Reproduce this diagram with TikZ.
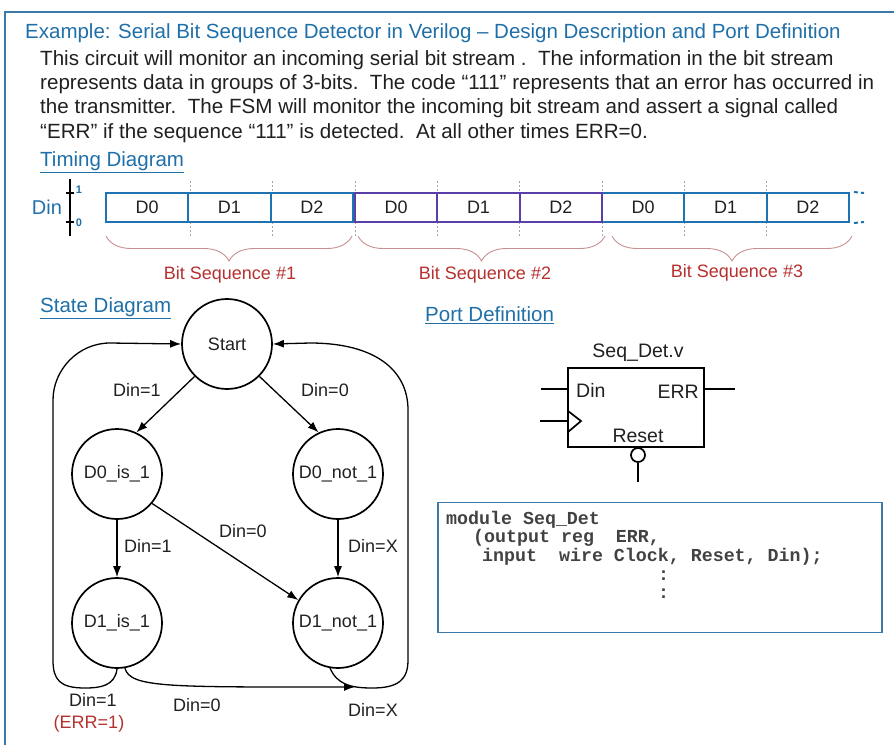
\documentclass[tikz,border=0pt]{standalone}
\usepackage{fontspec}
\setmainfont{Liberation Sans}
\setmonofont{Liberation Mono}
\usetikzlibrary{arrows.meta,decorations.pathreplacing}
\definecolor{hblue}{HTML}{1F6FA8}
\definecolor{frameblue}{HTML}{3C78A8}
\definecolor{cellblue}{HTML}{1F73B3}
\definecolor{cellpurple}{HTML}{5A3FA8}
\definecolor{bracecol}{HTML}{C89090}
\definecolor{seqred}{HTML}{B5302E}
\definecolor{txt}{HTML}{202020}
\tikzset{
  heading/.style={anchor=west,text=hblue,font=\fontsize{20.5}{22}\selectfont,inner sep=0pt},
  bodyline/.style={anchor=west,text=txt,font=\fontsize{20.6}{22}\selectfont,inner sep=0pt},
  cellbox/.style={draw,line width=2pt,minimum width=82.33pt,minimum height=29pt,inner sep=0pt,text=txt,font=\fontsize{18}{18}\selectfont},
  state/.style={circle,draw,line width=1.7pt,minimum size=90pt,inner sep=0pt,text=txt,font=\fontsize{18}{18}\selectfont},
  trans/.style={line width=1.3pt,-{Latex[length=11pt,width=8pt]}},
  lbl/.style={text=txt,font=\fontsize{18}{19}\selectfont,inner sep=0pt},
  portlbl/.style={text=txt,font=\fontsize{19.5}{20}\selectfont,inner sep=0pt},
  seqlbl/.style={text=seqred,font=\fontsize{18}{19}\selectfont,inner sep=0pt},
  bracestyle/.style={draw=bracecol,line width=0.9pt,decorate,decoration={brace,mirror,amplitude=25pt}},
  codeline/.style={anchor=west,inner sep=0pt,text=txt!85,font=\ttfamily\bfseries\fontsize{18.3}{18}\selectfont},
  wire/.style={line width=1.7pt},
}
\begin{document}
\begin{tikzpicture}[x=1pt,y=-1pt]
\useasboundingbox (0,0) rectangle (894,745);
% frame
\draw[frameblue,line width=2pt] (5,745) -- (5,12) -- (894,12);
% title and description
\node[heading] (title) at (25,33) {Example: Serial Bit Sequence Detector in Verilog -- Design Description and Port Definition};
\node[bodyline] (b1) at (40,60) {This circuit will monitor an incoming serial bit stream .\ \ The information in the bit stream};
\node[bodyline] (b2) at (40,84) {represents data in groups of 3-bits.\ \ The code “111” represents that an error has occurred in};
\node[bodyline] (b3) at (40,108) {the transmitter.\ \ The FSM will monitor the incoming bit stream and assert a signal called};
\node[bodyline] (b4) at (40,133) {“ERR” if the sequence “111” is detected.\ \ At all other times ERR=0.};
% timing diagram
\node[heading] (td) at (40,162) {\underline{Timing Diagram}};
\node[text=hblue,font=\fontsize{20}{20}\selectfont,inner sep=0pt] (din) at (47,207) {Din};
\coordinate (axtop) at (70,179);
\coordinate (axbot) at (70,236);
\draw[line width=2.5pt] (axtop) -- (axbot);
\coordinate (t1a) at (66,193); \coordinate (t1b) at (74,193);
\coordinate (t0a) at (66,222); \coordinate (t0b) at (74,222);
\draw[line width=2.5pt] (t1a) -- (t1b);
\draw[line width=2.5pt] (t0a) -- (t0b);
\node[text=hblue,font=\bfseries\fontsize{11}{11}\selectfont,inner sep=0pt] (one) at (79,190) {1};
\node[text=hblue,font=\bfseries\fontsize{11}{11}\selectfont,inner sep=0pt] (zero) at (79,223) {0};
% guide dots
\foreach \x in {190.3,272.7,355,437.3,519.7,602,684.3,766.7}{
  \draw[gray!70,line width=0.8pt,dash pattern=on 2pt off 2pt] (\x,181) -- (\x,193);
  \draw[gray!70,line width=0.8pt,dash pattern=on 2pt off 2pt] (\x,222) -- (\x,236);
}
% cells
\node[cellbox,draw=cellblue] (c1) at (147.2,207.5) {D0};
\node[cellbox,draw=cellblue] (c2) at (229.5,207.5) {D1};
\node[cellbox,draw=cellblue] (c3) at (311.8,207.5) {D2};
\node[cellbox,draw=cellblue] (c7) at (643.2,207.5) {D0};
\node[cellbox,draw=cellblue] (c8) at (725.5,207.5) {D1};
\node[cellbox,draw=cellblue] (c9) at (807.8,207.5) {D2};
\node[cellbox,draw=cellpurple] (c4) at (396.2,207.5) {D0};
\node[cellbox,draw=cellpurple] (c5) at (478.5,207.5) {D1};
\node[cellbox,draw=cellpurple] (c6) at (560.8,207.5) {D2};
\coordinate (dt) at (864,193);
\coordinate (db) at (864,222);
\draw[cellblue,line width=2pt,dash pattern=on 4pt off 3pt] (c9.north east) ++(4,0) -- (dt);
\draw[cellblue,line width=2pt,dash pattern=on 4pt off 3pt] (c9.south east) ++(4,0) -- (db);
% braces
\coordinate (br1a) at (106,236); \coordinate (br1b) at (352,236);
\coordinate (br2a) at (358,236); \coordinate (br2b) at (605,236);
\coordinate (br3a) at (612,236); \coordinate (br3b) at (852,236);
\draw[bracestyle] (br1a) -- (br1b);
\draw[bracestyle] (br2a) -- (br2b);
\draw[bracestyle] (br3a) -- (br3b);
\node[seqlbl] (s1) at (230,275) {Bit Sequence \#1};
\node[seqlbl] (s2) at (485,275) {Bit Sequence \#2};
\node[seqlbl] (s3) at (737,273) {Bit Sequence \#3};
% state diagram
\node[heading] (sd) at (40,308) {\underline{State Diagram}};
\node[state] (start) at (227,344) {Start};
\node[state] (d0is) at (117,474) {D0\_is\_1};
\node[state] (d0not) at (338,474) {D0\_not\_1};
\node[state] (d1is) at (117,623) {D1\_is\_1};
\node[state] (d1not) at (338,623) {D1\_not\_1};
\draw[trans] (start.225) -- (d0is.65);
\draw[trans] (start.-45) -- (d0not.115);
\draw[trans] (d0is.south) -- (d1is.north);
\draw[trans] (d0not.south) -- (d1not.north);
\draw[trans] (d0is.-40) -- (d1not.150);
\coordinate (d1end) at (355,687);
\draw[trans] (d1is.-80) .. controls (130,688) and (170,687) .. (d1end);
% loops
\draw[trans] (d1is.south) .. controls (115,686) and (100,688) .. (85,688)
  .. controls (60,688) and (53,680) .. (53,660) -- (53,400)
  .. controls (53,370) and (78,343) .. (110,343) -- (start.west);
\draw[trans] (d1not.-100) .. controls (337,684) and (350,688) .. (372,688)
  .. controls (398,688) and (408,680) .. (408,660) -- (408,410)
  .. controls (408,370) and (375,343) .. (310,343) -- (start.east);
\node[lbl] (l1) at (137,390) {Din=1};
\node[lbl] (l2) at (325,390) {Din=0};
\node[lbl] (l3) at (148,546) {Din=1};
\node[lbl] (l4) at (243,531) {Din=0};
\node[lbl] (l5) at (373,546) {Din=X};
\node[lbl] (l6) at (93,700) {Din=1};
\node[seqlbl] (l7) at (89,724) {(ERR=1)};
\node[lbl] (l8) at (197,705) {Din=0};
\node[lbl] (l9) at (373,710) {Din=X};
% port definition
\node[heading] (pd) at (425,315) {\underline{Port Definition}};
\node[draw,wire,minimum width=136pt,minimum height=79pt,inner sep=0pt] (blk) at (636,407.5) {};
\node[portlbl] (bname) at (638,353) {Seq\_Det.v};
\node[portlbl,anchor=west] (pdin) at (576,390) {Din};
\node[portlbl,anchor=east] (perr) at (699,392) {ERR};
\node[portlbl] (prst) at (638,436) {Reset};
\coordinate (dinw) at (541,389);
\coordinate (dinb) at (568,389);
\coordinate (errb) at (704,389);
\coordinate (errw) at (735,389);
\coordinate (clkw) at (540,421);
\coordinate (clkb) at (568,421);
\draw[wire] (dinw) -- (dinb);
\draw[wire] (errb) -- (errw);
\draw[wire] (clkw) -- (clkb);
\coordinate (tri1) at (568,411); \coordinate (tri2) at (581,421); \coordinate (tri3) at (568,432);
\draw[wire] (tri1) -- (tri2) -- (tri3);
\node[circle,draw,wire,minimum size=14pt,inner sep=0pt] (bub) at (638,455) {};
\coordinate (rstw) at (638,482);
\draw[wire] (bub.south) -- (rstw);
% code box
\node[draw=frameblue,line width=1.6pt,minimum width=444pt,minimum height=130pt,inner sep=0pt] (code) at (660,567.5) {};
\node[codeline] (k1) at (446,520) {module Seq\_Det};
\node[codeline] (k2) at (473,538) {(output reg\ \ ERR,};
\node[codeline] (k3) at (482,557) {input\ \ wire Clock, Reset, Din);};
\node[codeline] (k4) at (658,576) {:};
\node[codeline] (k5) at (658,594) {:};
\end{tikzpicture}
\end{document}
